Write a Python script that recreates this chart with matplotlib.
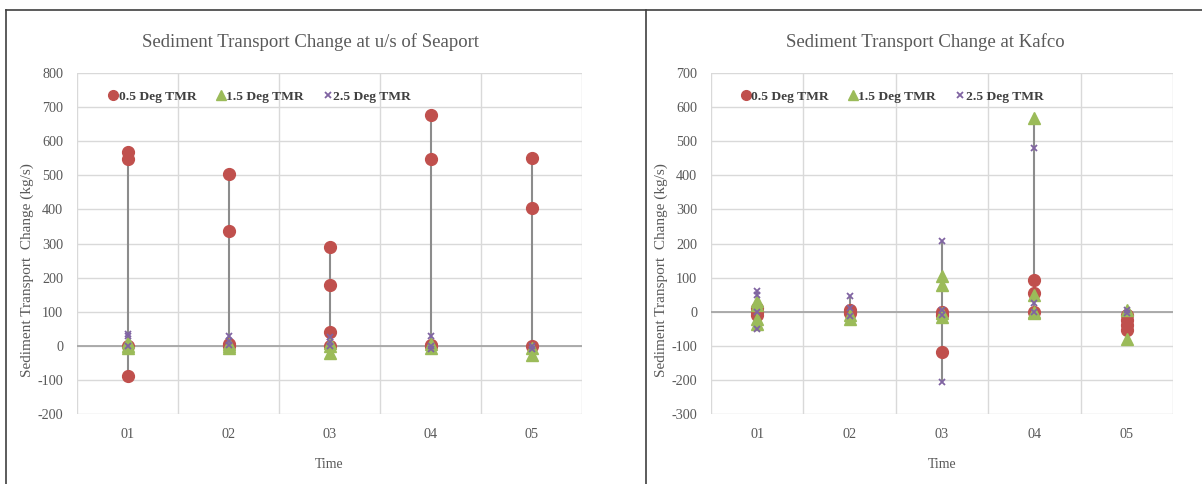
import matplotlib
matplotlib.use("Agg")
import matplotlib.pyplot as plt
from matplotlib.lines import Line2D

plt.rcParams['font.family'] = ['Liberation Serif', 'DejaVu Serif']
plt.rcParams['axes.unicode_minus'] = False

categories = ["01", "02", "03", "04", "05"]

# u/s of Seaport: values per category for each series
seaport_05 = [[569, 547, 0, -88], [505, 336, 5, 0], [289, 178, 40, 0], [678, 547, 2, 0], [552, 404, 0]]
seaport_15 = [[12, 0, -5], [5, 0, -5], [8, 0, -22], [5, -5], [-5, -28]]
seaport_25 = [[35, 28, 0], [28, 15, 2], [25, 10, 0], [30, 0, -8], [0, -10]]

# Kafco
kafco_05 = [[10, 0, -10], [5, 0, -5], [0, -10, -118], [93, 55, 0], [-10, -25, -40, -55]]
kafco_15 = [[30, 20, -20, -35], [-10, -20], [105, 78, -5, -15], [567, 48, 0, -5], [5, -80]]
kafco_25 = [[62, 50, 0, -50], [45, 10, -12], [207, 5, -10, -205], [480, 25, 0], [5, -5]]

series_names = ["0.5 Deg TMR", "1.5 Deg TMR", "2.5 Deg TMR"]
RED, GREEN, PURPLE = "#c0504d", "#9bbb59", "#8064a2"
TXT = "#595959"


def draw(ax, s05, s15, s25, ylim, yticks):
    xs = range(len(categories))
    for i in xs:
        vals = s05[i] + s15[i] + s25[i]
        ax.plot([i, i], [min(vals), max(vals)], color="#8c8c8c", lw=1.5, zorder=2)
    for i in xs:
        ax.plot([i] * len(s05[i]), s05[i], "o", color=RED, ms=8.5, ls="none", zorder=3)
        ax.plot([i] * len(s15[i]), s15[i], "^", color=GREEN, ms=8.5, ls="none", zorder=4)
        ax.plot([i] * len(s25[i]), s25[i], "x", color=PURPLE, ms=4.5, mew=1.3, ls="none", zorder=5)
    ax.set_xlim(-0.5, len(categories) - 0.5)
    ax.set_ylim(*ylim)
    ax.set_yticks(yticks)
    ax.set_xticks(list(xs))
    ax.set_xticklabels(categories)
    ax.set_xticks([k + 0.5 for k in range(-1, len(categories))], minor=True)
    ax.grid(True, which="minor", axis="x", color="#d9d9d9", lw=1)
    ax.grid(True, which="major", axis="y", color="#d9d9d9", lw=1)
    ax.axhline(0, color="#a6a6a6", lw=1.3, zorder=1)
    ax.tick_params(which="both", length=0, labelsize=10.2, labelcolor=TXT, pad=10)
    ax.tick_params(axis="x", pad=10)
    for sp in ax.spines.values():
        sp.set_visible(False)
    ax.set_axisbelow(True)
    ax.set_xlabel("Time", fontsize=10, color=TXT, labelpad=12)
    handles = [
        Line2D([], [], marker="o", color=RED, ls="none", ms=7),
        Line2D([], [], marker="^", color=GREEN, ls="none", ms=7),
        Line2D([], [], marker="x", color=PURPLE, ls="none", ms=4.5, mew=1.3),
    ]
    leg = ax.legend(handles, series_names, loc="upper left", ncol=3, frameon=False,
                    handlelength=0.6, handletextpad=0.1, columnspacing=1.5,
                    bbox_to_anchor=(0.04, 0.985), prop={"weight": "bold", "size": 9.7})
    for t in leg.get_texts():
        t.set_color("#404040")


fig = plt.figure(figsize=(12.02, 4.84), dpi=100)
ax1 = fig.add_axes([0.0641, 0.1446, 0.4201, 0.7045])
ax2 = fig.add_axes([0.5915, 0.1446, 0.3844, 0.7045])

draw(ax1, seaport_05, seaport_15, seaport_25, (-200, 800), range(-200, 801, 100))
draw(ax2, kafco_05, kafco_15, kafco_25, (-300, 700), range(-300, 701, 100))

fig.text(311 / 1202, 1 - 42 / 484, "Sediment Transport Change at u/s of Seaport",
         ha="center", va="center", fontsize=13.5, color=TXT)
fig.text(925 / 1202, 1 - 42 / 484, "Sediment Transport Change at Kafco",
         ha="center", va="center", fontsize=13.5, color=TXT)
for xl in (27, 661):
    fig.text(xl / 1202, 1 - 270 / 484, "Sediment Transport  Change (kg/s)", rotation=90,
             ha="center", va="center", fontsize=11, color=TXT)

# panel borders
fig.add_artist(Line2D([0.005, 0.005], [0, 0.979], color="#404040", lw=1.2))
fig.add_artist(Line2D([0.005, 1], [0.979, 0.979], color="#404040", lw=1.2))
fig.add_artist(Line2D([0.5374, 0.5374], [0, 0.979], color="#404040", lw=1.2))

fig.savefig("out.png", dpi=100)
